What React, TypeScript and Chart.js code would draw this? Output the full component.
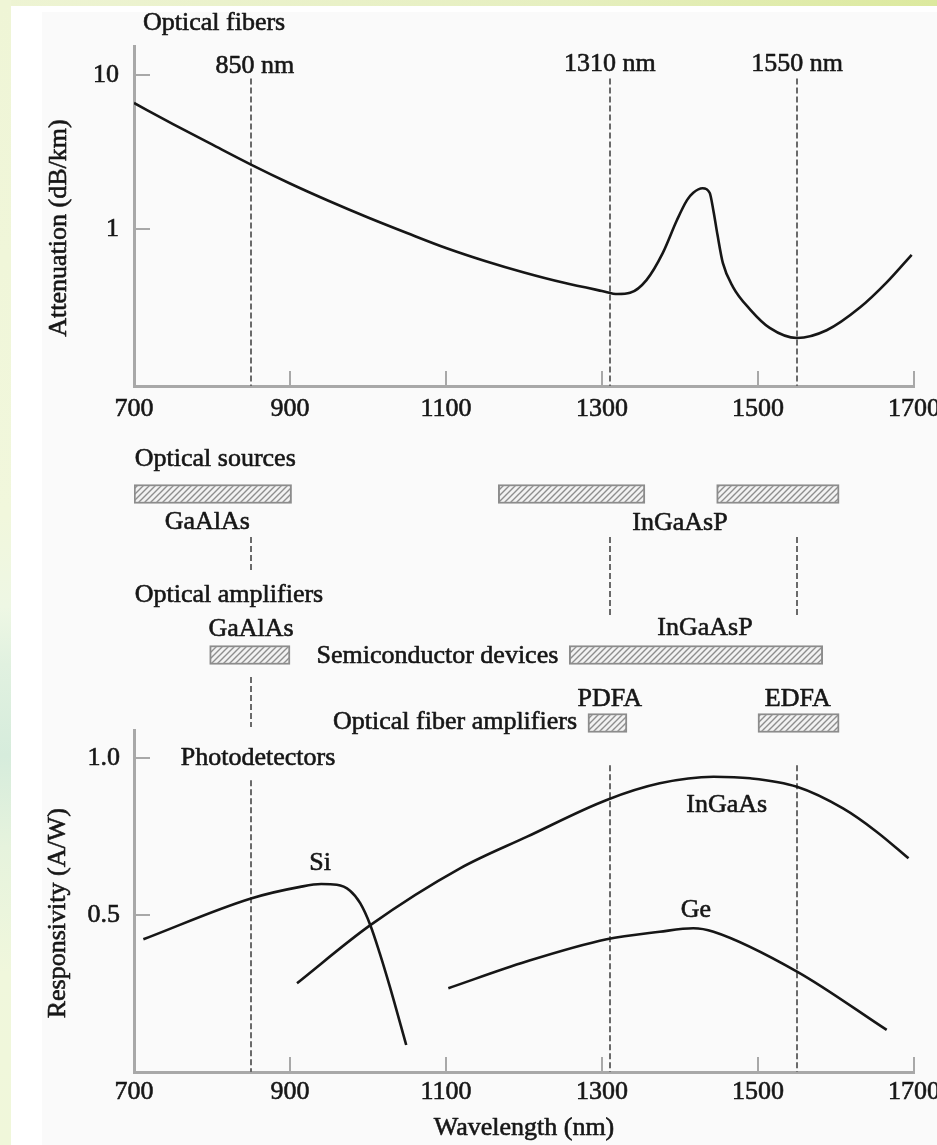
import React, { useEffect, useRef } from 'react';
import { Chart, registerables } from 'chart.js';

Chart.register(...registerables);

// ---------- data ----------
// Wavelength axis shared by the three panels (nm)
const wavelengthTicks = [700, 900, 1100, 1300, 1500, 1700];
const windowWavelengths = [850, 1310, 1550];
const windowLabels = ['850 nm', '1310 nm', '1550 nm'];

// Optical fibre loss spectrum (dB/km)
const fiberWavelength = [
  700, 750, 800, 850, 900, 950, 1000, 1050, 1100, 1150, 1200, 1250, 1300,
  1320, 1336, 1357, 1378, 1396, 1409, 1417, 1429, 1438, 1443, 1448, 1455,
  1468, 1490, 1515, 1550, 1588, 1631, 1665, 1697,
];
const fiberAttenuation = [
  6.58, 4.8, 3.54, 2.62, 1.975, 1.52, 1.188, 0.942, 0.753, 0.62, 0.522, 0.449, 0.396,
  0.378, 0.385, 0.466, 0.7, 1.14, 1.54, 1.72, 1.84, 1.72, 1.3, 0.92, 0.6,
  0.42, 0.3, 0.228, 0.196, 0.22, 0.31, 0.45, 0.68,
];
const attenuationTicks = [1, 10];

// Component wavelength bands [start, end] (nm)
const sourceBands = [[700, 902], [1167, 1355], [1447, 1604]];
const semiconductorAmpBands = [[797, 900], [1258, 1583]];
const fiberAmpBands = [[1282, 1332], [1500, 1604]];

// Photodetector responsivity (A/W)
const siWavelength = [712, 850, 913, 940, 960, 977, 990, 1003, 1015, 1028, 1049];
const siResponsivity = [0.423, 0.553, 0.59, 0.599, 0.597, 0.578, 0.538, 0.468, 0.379, 0.272, 0.086];
const inGaAsWavelength = [909, 1003, 1118, 1204, 1306, 1374, 1443, 1490, 1550, 1609, 1652, 1693];
const inGaAsResponsivity = [0.283, 0.468, 0.649, 0.75, 0.867, 0.92, 0.941, 0.936, 0.909, 0.84, 0.766, 0.681];
const geWavelength = [1103, 1203, 1306, 1374, 1417, 1443, 1550, 1665];
const geResponsivity = [0.267, 0.352, 0.423, 0.447, 0.458, 0.447, 0.32, 0.134];
const responsivityTicks = [0.5, 1.0];

// ---------- styling / layout ----------
const FONT = '"Liberation Serif", "Times New Roman", serif';
const TEXT_SIZE = 26;
const TEXT_STROKE = 0.6;
const INK = '#161616';
const AXIS_GREY = '#a8a8a8';
const DASH_GREY = '#6a6a6a';
const BAR_EDGE = '#8c8c8c';
const CANVAS_WIDTH = 960;
const PLOT_LEFT = 134;
const PLOT_RIGHT = 914;

// vertical placement of the band rows inside the middle panel (panel px)
const ROW = { sources: 69, semiconductor: 230, fiber: 298 };

Chart.defaults.font.family = FONT;
Chart.defaults.font.size = TEXT_SIZE;
Chart.defaults.color = INK;

const toPoints = (xs: number[], ys: number[]) => xs.map((x, i) => ({ x, y: ys[i] }));

function inkText(ctx: CanvasRenderingContext2D, text: string, x: number, y: number) {
  ctx.strokeText(text, x, y);
  ctx.fillText(text, x, y);
}

// Dashed wavelength markers, inward tick marks, free text and axis titles
const figureMarks = {
  id: 'figureMarks',
  beforeDatasetsDraw(chart: any, _args: any, opts: any) {
    const { ctx } = chart;
    const xs = chart.scales.x;
    const ys = chart.scales.y;
    ctx.save();
    ctx.strokeStyle = DASH_GREY;
    ctx.lineWidth = 2;
    ctx.setLineDash([6, 3]);
    for (const d of opts.dashes || []) {
      const px = Math.round(xs.getPixelForValue(d.x));
      ctx.beginPath();
      ctx.moveTo(px, ys.getPixelForValue(d.y1));
      ctx.lineTo(px, ys.getPixelForValue(d.y2));
      ctx.stroke();
    }
    ctx.restore();
  },
  afterDraw(chart: any, _args: any, opts: any) {
    const { ctx, chartArea } = chart;
    const xs = chart.scales.x;
    const ys = chart.scales.y;
    ctx.save();
    ctx.strokeStyle = AXIS_GREY;
    ctx.lineWidth = 2;
    for (const v of opts.xTicks || []) {
      const px = Math.round(xs.getPixelForValue(v));
      ctx.beginPath();
      ctx.moveTo(px, chartArea.bottom);
      ctx.lineTo(px, chartArea.bottom - 15);
      ctx.stroke();
    }
    for (const v of opts.yTicks || []) {
      const py = Math.round(ys.getPixelForValue(v));
      ctx.beginPath();
      ctx.moveTo(chartArea.left, py);
      ctx.lineTo(chartArea.left + 16, py);
      ctx.stroke();
    }
    ctx.fillStyle = INK;
    ctx.strokeStyle = INK;
    ctx.lineWidth = TEXT_STROKE;
    ctx.lineJoin = 'round';
    ctx.font = `${TEXT_SIZE}px ${FONT}`;
    ctx.textBaseline = 'middle';
    for (const n of opts.notes || []) {
      ctx.textAlign = n.align || 'center';
      inkText(ctx, n.text, xs.getPixelForValue(n.x), ys.getPixelForValue(n.y));
    }
    if (opts.sideTitle) {
      const t = opts.sideTitle;
      ctx.save();
      ctx.translate(t.x, ys.getPixelForValue(t.y));
      ctx.rotate(-Math.PI / 2);
      ctx.textAlign = 'center';
      inkText(ctx, t.text, 0, 0);
      ctx.restore();
    }
    if (opts.footTitle) {
      ctx.textAlign = 'center';
      inkText(ctx, opts.footTitle.text, (chartArea.left + chartArea.right) / 2, chartArea.bottom + opts.footTitle.offset);
    }
    ctx.restore();
  },
};

function wavelengthAxis(axisHeight: number, labelPad: number) {
  return {
    type: 'linear',
    min: 700,
    max: 1700,
    afterBuildTicks: (s: any) => {
      s.ticks = wavelengthTicks.map((value) => ({ value }));
    },
    afterFit: (s: any) => {
      s.height = axisHeight;
    },
    ticks: {
      autoSkip: false,
      maxRotation: 0,
      padding: labelPad,
      textStrokeColor: INK,
      textStrokeWidth: TEXT_STROKE,
      callback: (v: any) => String(v),
    },
    grid: { display: true, drawOnChartArea: false, drawTicks: false },
    border: { display: true, color: AXIS_GREY, width: 3 },
  };
}

function hatchPattern(): any {
  const c = document.createElement('canvas');
  c.width = 6;
  c.height = 6;
  const g = c.getContext('2d') as CanvasRenderingContext2D;
  g.fillStyle = '#f2f2f2';
  g.fillRect(0, 0, 6, 6);
  g.strokeStyle = '#8e8e8e';
  g.lineWidth = 1.4;
  g.beginPath();
  g.moveTo(0, 6);
  g.lineTo(6, 0);
  g.moveTo(-1, 1);
  g.lineTo(1, -1);
  g.moveTo(5, 7);
  g.lineTo(7, 5);
  g.stroke();
  return g.createPattern(c, 'repeat');
}

const baseOptions = {
  responsive: false,
  animation: false,
  events: [],
};

function fiberConfig(): any {
  return {
    type: 'line',
    data: {
      datasets: [
        {
          data: toPoints(fiberWavelength, fiberAttenuation),
          borderColor: INK,
          borderWidth: 2.6,
          pointRadius: 0,
          fill: false,
          cubicInterpolationMode: 'monotone',
        },
      ],
    },
    options: {
      ...baseOptions,
      layout: { padding: { top: 46, right: CANVAS_WIDTH - PLOT_RIGHT, bottom: 0, left: 0 } },
      scales: {
        x: wavelengthAxis(44, 8),
        y: {
          type: 'logarithmic',
          min: 0.0956,
          max: 15.43,
          bounds: 'data',
          afterBuildTicks: (s: any) => {
            s.ticks = attenuationTicks.map((value) => ({ value }));
          },
          afterFit: (s: any) => {
            s.width = PLOT_LEFT;
          },
          ticks: {
            padding: 15,
            textStrokeColor: INK,
            textStrokeWidth: TEXT_STROKE,
            callback: (v: any) => String(v),
          },
          grid: { display: true, drawOnChartArea: false, drawTicks: false },
          border: { display: true, color: AXIS_GREY, width: 3 },
        },
      },
      plugins: {
        legend: { display: false },
        tooltip: { enabled: false },
        figureMarks: {
          dashes: windowWavelengths.map((x) => ({ x, y1: 9.5, y2: 0.0956 })),
          xTicks: wavelengthTicks.slice(1),
          yTicks: attenuationTicks,
          notes: [
            { text: 'Optical fibers', x: 711.5, y: 21.8, align: 'left' },
            { text: windowLabels[0], x: 855, y: 11.4 },
            { text: windowLabels[1], x: 1310, y: 11.7 },
            { text: windowLabels[2], x: 1550, y: 11.7 },
          ],
          sideTitle: { text: 'Attenuation (dB/km)', x: 59, y: 1.015 },
        },
      },
    },
    plugins: [figureMarks],
  };
}

function bandsConfig(): any {
  const bars = [
    ...sourceBands.map((b) => ({ x: b, y: ROW.sources })),
    ...semiconductorAmpBands.map((b) => ({ x: b, y: ROW.semiconductor })),
    ...fiberAmpBands.map((b) => ({ x: b, y: ROW.fiber })),
  ];
  return {
    type: 'bar',
    data: {
      datasets: [
        {
          data: bars,
          backgroundColor: hatchPattern(),
          borderColor: BAR_EDGE,
          borderWidth: 2,
          borderSkipped: false,
          barThickness: 19,
          grouped: false,
        },
      ],
    },
    options: {
      ...baseOptions,
      indexAxis: 'y',
      layout: { padding: { top: 0, right: CANVAS_WIDTH - PLOT_RIGHT, bottom: 0, left: PLOT_LEFT } },
      scales: {
        x: { type: 'linear', min: 700, max: 1700, display: false },
        y: { type: 'linear', min: 0, max: 320, reverse: true, offset: false, display: false },
      },
      plugins: {
        legend: { display: false },
        tooltip: { enabled: false },
        figureMarks: {
          dashes: [
            { x: windowWavelengths[0], y1: 112, y2: 148 },
            { x: windowWavelengths[0], y1: 252, y2: 302 },
            { x: windowWavelengths[1], y1: 112, y2: 193 },
            { x: windowWavelengths[2], y1: 112, y2: 193 },
          ],
          notes: [
            { text: 'Optical sources', x: 701, y: 34, align: 'left' },
            { text: 'GaAlAs', x: 794, y: 97 },
            { text: 'InGaAsP', x: 1400, y: 98 },
            { text: 'Optical amplifiers', x: 701, y: 170, align: 'left' },
            { text: 'GaAlAs', x: 850, y: 204 },
            { text: 'InGaAsP', x: 1432, y: 203 },
            { text: 'Semiconductor devices', x: 1244, y: 231, align: 'right' },
            { text: 'PDFA', x: 1310, y: 274 },
            { text: 'EDFA', x: 1551, y: 274 },
            { text: 'Optical fiber amplifiers', x: 1268, y: 297, align: 'right' },
          ],
        },
      },
    },
    plugins: [figureMarks],
  };
}

function detectorConfig(): any {
  const curve = (xs: number[], ys: number[]) => ({
    data: toPoints(xs, ys),
    borderColor: INK,
    borderWidth: 2.6,
    pointRadius: 0,
    fill: false,
    cubicInterpolationMode: 'monotone',
  });
  return {
    type: 'line',
    data: {
      datasets: [
        curve(siWavelength, siResponsivity),
        curve(inGaAsWavelength, inGaAsResponsivity),
        curve(geWavelength, geResponsivity),
      ],
    },
    options: {
      ...baseOptions,
      layout: { padding: { top: 30, right: CANVAS_WIDTH - PLOT_RIGHT, bottom: 0, left: 0 } },
      scales: {
        x: wavelengthAxis(73, 5),
        y: {
          type: 'linear',
          min: 0,
          max: 1.09,
          afterBuildTicks: (s: any) => {
            s.ticks = responsivityTicks.map((value) => ({ value }));
          },
          afterFit: (s: any) => {
            s.width = PLOT_LEFT;
          },
          ticks: {
            padding: 14,
            textStrokeColor: INK,
            textStrokeWidth: TEXT_STROKE,
            callback: (v: any) => Number(v).toFixed(1),
          },
          grid: { display: true, drawOnChartArea: false, drawTicks: false },
          border: { display: true, color: AXIS_GREY, width: 3 },
        },
      },
      plugins: {
        legend: { display: false },
        tooltip: { enabled: false },
        figureMarks: {
          dashes: [
            { x: windowWavelengths[0], y1: 0.93, y2: 0 },
            { x: windowWavelengths[1], y1: 0.978, y2: 0 },
            { x: windowWavelengths[2], y1: 0.978, y2: 0 },
          ],
          xTicks: wavelengthTicks.slice(1),
          yTicks: responsivityTicks,
          notes: [
            { text: 'Photodetectors', x: 760, y: 1.0, align: 'left' },
            { text: 'Si', x: 938.5, y: 0.666 },
            { text: 'InGaAs', x: 1460, y: 0.851 },
            { text: 'Ge', x: 1420.5, y: 0.516 },
          ],
          sideTitle: { text: 'Responsivity (A/W)', x: 58, y: 0.506 },
          footTitle: { text: 'Wavelength (nm)', offset: 56.6 },
        },
      },
    },
    plugins: [figureMarks],
  };
}

export default function App() {
  const fiberRef = useRef<HTMLCanvasElement>(null);
  const bandsRef = useRef<HTMLCanvasElement>(null);
  const detectorRef = useRef<HTMLCanvasElement>(null);

  useEffect(() => {
    const charts = [
      new Chart(fiberRef.current as HTMLCanvasElement, fiberConfig()),
      new Chart(bandsRef.current as HTMLCanvasElement, bandsConfig()),
      new Chart(detectorRef.current as HTMLCanvasElement, detectorConfig()),
    ];
    return () => charts.forEach((c) => c.destroy());
  }, []);

  const abs = (left: number, top: number): React.CSSProperties => ({ position: 'absolute', left, top, display: 'block' });

  return (
    <div
      style={{
        position: 'fixed',
        left: 0,
        top: 0,
        width: 937,
        height: 1145,
        overflow: 'hidden',
        background: '#fafafa',
      }}
    >
      <div style={{ ...abs(11, 6), width: 31, height: 1139, background: '#ffffff' }} />
      <div style={{ ...abs(11, 6), width: 926, height: 6, background: '#ffffff' }} />
      <div
        style={{
          ...abs(0, 0),
          width: 937,
          height: 6,
          background: 'linear-gradient(to right, #eef4d4 0%, #e6efc0 60%, #dce99e 100%)',
        }}
      />
      <div
        style={{
          ...abs(0, 0),
          width: 11,
          height: 1145,
          background:
            'linear-gradient(to bottom, #eff5d6 0%, #f1f7dc 45%, #eef7e4 53%, #e1f1e0 58%, #d6ecdc 66%, #e6f3dd 74%, #f0f7dc 85%, #f0f7da 100%)',
        }}
      />
      <canvas ref={fiberRef} width={CANVAS_WIDTH} height={430} style={abs(0, 0)} />
      <canvas ref={bandsRef} width={CANVAS_WIDTH} height={320} style={abs(0, 425)} />
      <canvas ref={detectorRef} width={CANVAS_WIDTH} height={445} style={abs(0, 700)} />
    </div>
  );
}
